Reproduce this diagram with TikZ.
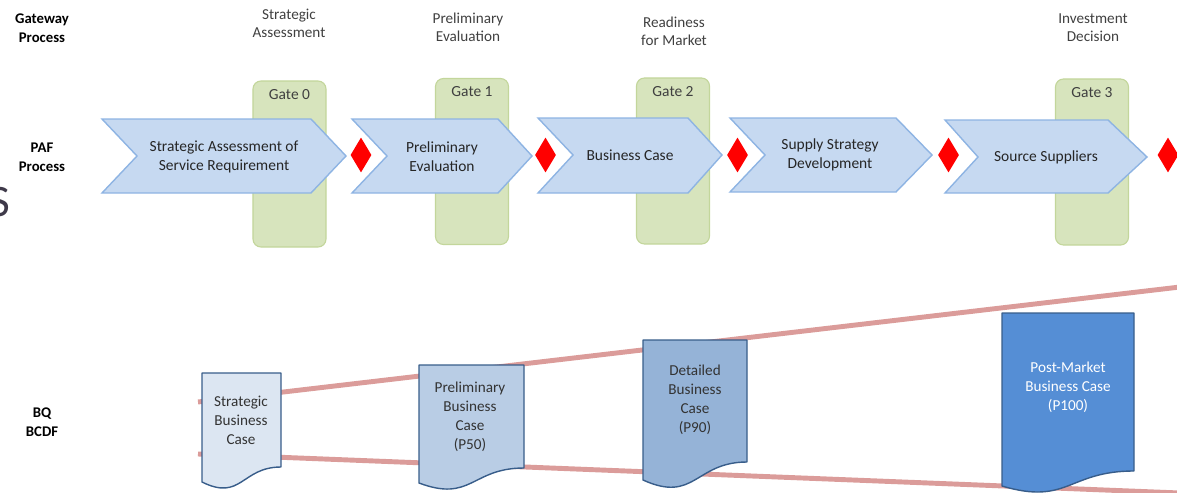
\documentclass[tikz,border=0pt]{standalone}
\usepackage{fontspec}
\setmainfont{Carlito}
\usetikzlibrary{shapes.geometric}
\usetikzlibrary{positioning}
\definecolor{chevfill}{HTML}{C6D9F1}
\definecolor{chevdraw}{HTML}{8EB4E3}
\definecolor{gatefill}{HTML}{D7E4BD}
\definecolor{gatedraw}{HTML}{C3D69B}
\definecolor{bqpink}{HTML}{DB9C9A}
\definecolor{docdraw}{HTML}{385D8A}
\definecolor{docA}{HTML}{DCE6F2}
\definecolor{docB}{HTML}{B9CDE5}
\definecolor{docC}{HTML}{95B3D7}
\definecolor{docD}{HTML}{558ED5}
\definecolor{txtgray}{HTML}{404040}
\definecolor{bigs}{HTML}{3F3A4A}
\tikzset{
    gate/.style={
           rectangle, rounded corners=0.2cm,
           draw=gatedraw, fill=gatefill, line width=0.8pt,
           minimum width=1.825cm, minimum height=4.15cm,
           },
    gatetxt/.style={
           text=txtgray, font=\fontsize{11}{12}\selectfont,
           },
}
\tikzset{
    chev/.style={
           draw=chevdraw, fill=chevfill, line width=1pt, line join=miter,
           },
    chevtxt/.style={
           align=center, text=black!85,
           font=\fontsize{11}{13.5}\selectfont,
           },
    toptxt/.style={
           align=center, text=txtgray,
           font=\fontsize{10.8}{13}\selectfont,
           },
    rowtxt/.style={
           align=center, text=black,
           font=\bfseries\fontsize{10.5}{13.5}\selectfont,
           },
}
\tikzset{
    gatesign/.style={
           diamond, fill=red, inner sep=0pt,
           minimum width=0.525cm, minimum height=0.875cm,
           },
    bqline/.style={
           draw=bqpink, line width=3.5pt,
           },
    doc/.style={
           draw=docdraw, line width=1pt, line join=round,
           },
    doctxt/.style={
           align=center, text=black!80,
           font=\fontsize{10.8}{13.4}\selectfont,
           },
}

\begin{document}
\begin{tikzpicture}[x=0.025cm,y=-0.025cm]
\useasboundingbox (0,0) rectangle (1177,493);
\node[anchor=east, inner sep=0pt, text=bigs, font=\fontsize{32}{32}\selectfont] (bigS) at (10,202.5) {S};
% row labels
\node[rowtxt] (gw) at (42,28) {Gateway\\Process};
\node[rowtxt] (paf) at (42,157) {PAF\\Process};
\node[rowtxt] (bq) at (42,422) {BQ\\BCDF};
% gates
\node[gate] (g0) at (289.5,164) {};
\node[gate] (g1) at (472,161.5) {};
\node[gate] (g2) at (673,161) {};
\node[gate] (g3) at (1092,162) {};
\node[gatetxt, below=0.1cm of g0.north] (gl0) {Gate 0};
\node[gatetxt, below=0.1cm of g1.north] (gl1) {Gate 1};
\node[gatetxt, below=0.1cm of g2.north] (gl2) {Gate 2};
\node[gatetxt, below=0.1cm of g3.north] (gl3) {Gate 3};
\node[toptxt] (t0) at (289,23) {Strategic\\Assessment};
\node[toptxt] (t1) at (468,27.5) {Preliminary\\Evaluation};
\node[toptxt] (t2) at (674,31.5) {Readiness\\for Market};
\node[toptxt] (t3) at (1093,27.5) {Investment\\Decision};
% PAF chevrons
\draw[chev] (102,119) -- (311,119) -- (346,156) -- (311,193) -- (102,193) -- (137,156) -- cycle;
\draw[chev] (352,119) -- (498,119) -- (532,156) -- (498,193) -- (352,193) -- (387,156) -- cycle;
\draw[chev] (538,118) -- (688,118) -- (722,155) -- (688,193) -- (538,193) -- (573,155) -- cycle;
\draw[chev] (730,118) -- (896,118) -- (932,155) -- (896,192) -- (730,192) -- (765,155) -- cycle;
\draw[chev] (945,120) -- (1108,120) -- (1147,157) -- (1108,193) -- (945,193) -- (978,157) -- cycle;
\node[chevtxt] (c1) at (224,157) {Strategic Assessment of\\Service Requirement};
\node[chevtxt] (c2) at (442,157) {Preliminary\\Evaluation};
\node[chevtxt] (c3) at (630,155) {Business Case};
\node[chevtxt] (c4) at (830,155) {Supply Strategy\\Development};
\node[chevtxt] (c5) at (1046,157) {Source Suppliers};
\node[gatesign] (d1) at (361,155) {};
\node[gatesign] (d2) at (545.5,155) {};
\node[gatesign] (d3) at (737.5,155) {};
\node[gatesign] (d4) at (948.5,155) {};
\node[gatesign] (d5) at (1168,155) {};
% BQ funnel
\coordinate (u0) at (198,402);
\coordinate (u1) at (1180,287);
\coordinate (l0) at (198,454);
\coordinate (l1) at (1180,493);
\draw[bqline] (u0) -- (u1);
\draw[bqline] (l0) -- (l1);
\draw[doc, fill=docA] (202,373) -- (281,373) -- (281,467) .. controls (241.5,467) and (241.5,501.6) .. (202,482) -- cycle;
\draw[doc, fill=docB] (419,365) -- (524,365) -- (524,468) .. controls (471.5,468) and (471.5,502.7) .. (419,483) -- cycle;
\draw[doc, fill=docC] (643,340) -- (747,340) -- (747,462) .. controls (695,462) and (695,503.6) .. (643,480) -- cycle;
\draw[doc, fill=docD] (1002,313) -- (1134,313) -- (1134,471) .. controls (1068,471) and (1068,505.6) .. (1002,486) -- cycle;
\node[doctxt] (b1) at (241,420) {Strategic\\Business\\Case};
\node[doctxt] (b2) at (470,417) {Preliminary\\Business\\Case\\(P50)};
\node[doctxt] (b3) at (695,400) {Detailed\\Business\\Case\\(P90)};
\node[doctxt, text=white] (b4) at (1068,387) {Post-Market\\Business Case\\(P100)};
\end{tikzpicture}
\end{document}
